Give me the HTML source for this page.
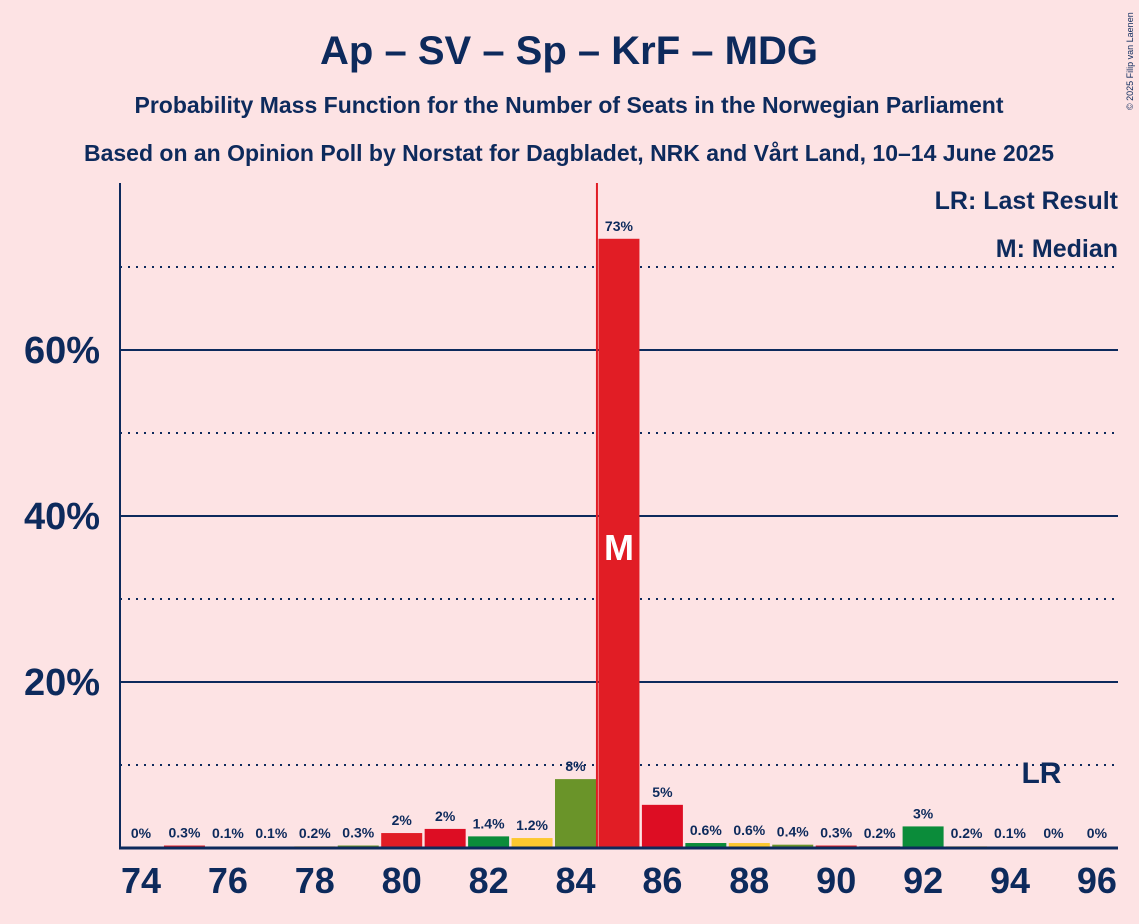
<!DOCTYPE html>
<html><head><meta charset="utf-8"><style>
body{margin:0;background:#fde3e4;font-family:"Liberation Sans",sans-serif;}
svg{display:block}
</style></head><body>
<svg width="1139" height="924">
<rect width="1139" height="924" fill="#fde3e4"/>
<text x="569" y="64" text-anchor="middle" font-size="40" font-weight="bold" fill="#0d2a5c">Ap – SV – Sp – KrF – MDG</text>
<text x="569" y="113" text-anchor="middle" font-size="23" font-weight="bold" fill="#0d2a5c">Probability Mass Function for the Number of Seats in the Norwegian Parliament</text>
<text x="569" y="161" text-anchor="middle" font-size="23" font-weight="bold" fill="#0d2a5c">Based on an Opinion Poll by Norstat for Dagbladet, NRK and Vårt Land, 10–14 June 2025</text>
<text x="1133" y="110" font-size="9" fill="#0d2a5c" transform="rotate(-90 1133 110)">© 2025 Filip van Laenen</text>
<g id="grid"></g>
<g id="bars"></g>
<g id="labels"></g>
<line x1="120" y1="183" x2="120" y2="849" stroke="#0d2a5c" stroke-width="2"/>
<line x1="119" y1="848" x2="1118" y2="848" stroke="#0d2a5c" stroke-width="3"/>
<text x="1118" y="209" text-anchor="end" font-size="25" font-weight="bold" fill="#0d2a5c">LR: Last Result</text>
<text x="1118" y="257" text-anchor="end" font-size="25" font-weight="bold" fill="#0d2a5c">M: Median</text>
</svg>
<script>
const seats=[74,75,76,77,78,79,80,81,82,83,84,85,86,87,88,89,90,91,92,93,94,95,96];
const probs=[0,0.3,0.1,0.1,0.2,0.3,1.8,2.3,1.4,1.2,8.3,73.4,5.2,0.6,0.6,0.4,0.3,0.2,2.6,0.2,0.1,0,0];
const printed=["0%","0.3%","0.1%","0.1%","0.2%","0.3%","2%","2%","1.4%","1.2%","8%","73%","5%","0.6%","0.6%","0.4%","0.3%","0.2%","3%","0.2%","0.1%","0%","0%"];
const yTicks=[20,40,60];
const yDotted=[10,30,50,70];
const xTicks=[74,76,78,80,82,84,86,88,90,92,94,96];
const medianSeat=85, lastResult=95;
const colors=["#e11d25","#dd0d23","#0b8c3a","#fdc82f","#6a9429"];
const NS="http://www.w3.org/2000/svg";
const X=s=>141+(s-74)*43.45;
const Y=v=>848-v*8.3;
function mk(tag,attrs,parent,text){const e=document.createElementNS(NS,tag);for(const k in attrs)e.setAttribute(k,attrs[k]);if(text!==undefined)e.textContent=text;document.getElementById(parent)?document.getElementById(parent).appendChild(e):document.querySelector('svg').appendChild(e);return e;}
yDotted.forEach(v=>{const l=mk('line',{x1:120,x2:1118,y1:Y(v),y2:Y(v),stroke:'#0d2a5c','stroke-width':2,'stroke-dasharray':'2,6'},'grid');

});
yTicks.forEach(v=>{const l=mk('line',{x1:120,x2:1118,y1:Y(v),y2:Y(v),stroke:'#0d2a5c','stroke-width':2},'grid');


const t=mk('text',{x:100,y:Y(v)+13,'text-anchor':'end','font-size':38,'font-weight':'bold',fill:'#0d2a5c'},'grid',v+'%');

});
seats.forEach((s,i)=>{const v=probs[i];const h=848-Y(v);
if(h>0){const r=mk('rect',{x:X(s)-20.5,y:Y(v),width:41,height:h,fill:colors[s%5]},'bars');

}
const ly=Math.min(Y(v)-8,838);
const t=mk('text',{x:X(s),y:ly,'text-anchor':'middle','font-size':14,'font-weight':'bold',fill:'#0d2a5c'},'labels',printed[i]);

});
xTicks.forEach(s=>{const t=mk('text',{x:X(s),y:893,'text-anchor':'middle','font-size':36,'font-weight':'bold',fill:'#0d2a5c'},'labels',s);

});
const ml=mk('line',{x1:X(medianSeat)-22,x2:X(medianSeat)-22,y1:183,y2:848,stroke:'#e11d25','stroke-width':2},'labels');


const mt=mk('text',{x:X(medianSeat),y:560,'text-anchor':'middle','font-size':36,'font-weight':'bold',fill:'#ffffff'},'labels','M');


const lr=mk('text',{x:X(lastResult)-12,y:783,'text-anchor':'middle','font-size':30,'font-weight':'bold',fill:'#0d2a5c'},'labels','LR');


</script>
</body></html>
